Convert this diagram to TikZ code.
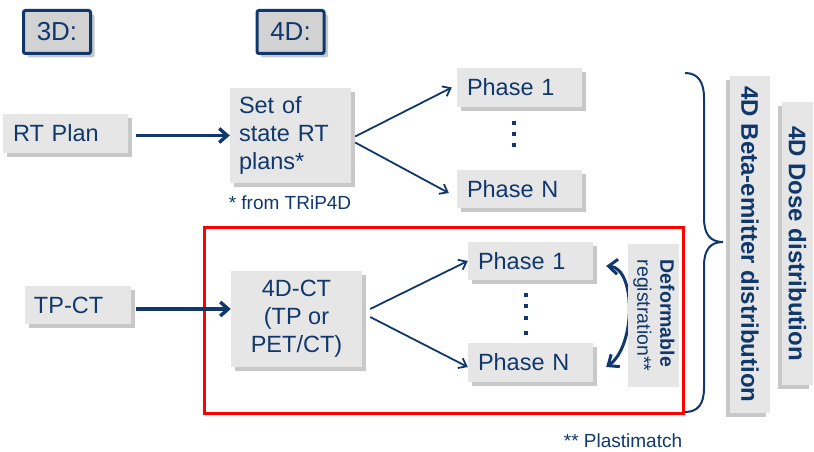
\documentclass[tikz,border=0pt]{standalone}
\usepackage{fontspec}
\usepackage{graphicx}
\setmainfont{Liberation Sans}
\usetikzlibrary{arrows.meta,shadows,calc}
\definecolor{navy}{RGB}{16,56,108}
\definecolor{boxgray}{RGB}{230,230,230}
\definecolor{labelgray}{RGB}{210,210,210}
\definecolor{shadowgray}{RGB}{200,200,200}
\definecolor{framered}{RGB}{255,0,0}
\begin{document}
\begin{tikzpicture}[x=1pt,y=-1pt,
  every node/.style={text=navy},
  mainfont/.style={font=\fontsize{23.5}{28}\selectfont},
  shadowed/.style={drop shadow={shadow xshift=4pt,shadow yshift=-4pt,fill=shadowgray,opacity=1}},
  leftshadowed/.style={drop shadow={shadow xshift=-4pt,shadow yshift=-4pt,fill=shadowgray,opacity=1}},
  box/.style={mainfont,fill=boxgray,inner ysep=0pt,shadowed},
  leftbox/.style={box,align=left,inner xsep=#1},
  labelbox/.style={draw=navy,line width=3pt,fill=labelgray,rounded corners=2pt,
    minimum width=67pt,minimum height=43pt,inner sep=0pt,
    font=\fontsize{26}{30}\selectfont,shadowed},
  sidebox/.style={fill=boxgray,inner sep=0pt,
    font=\bfseries\fontsize{24}{28}\selectfont,leftshadowed},
  note/.style={font=\fontsize{19}{22}\selectfont,inner sep=0pt},
  thickarrow/.style={navy,line width=3.4pt,-{Straight Barb[length=8pt,width=14pt]}},
  thinarrow/.style={navy,line width=1.8pt,-{Straight Barb[length=7pt,width=11pt]}},
  regarrow/.style={navy,line width=3pt,{Straight Barb[length=9pt,width=15pt]}-{Straight Barb[length=9pt,width=15pt]}},
  dot/.style={fill=navy},
]
\useasboundingbox (0,0) rectangle (814,452);

% frame around the 4D-CT branch
\draw[framered,line width=3pt] (204,227) rectangle (683,413);

% column headings
\node[labelbox] (h3d) at (57,32) {3D:};
\node[labelbox] (h4d) at (290.5,32) {4D:};

% plan branch
\node[leftbox=10pt,text width=105pt,minimum height=39pt] (rtplan) at (65.5,133.5) {RT Plan};
\node[leftbox=9pt,text width=103pt,minimum height=95pt] (plans) at (290.5,135.5) {Set of\\state RT\\plans*};
\node[note] (trip) at (290,203) {* from TRiP4D};
\node[leftbox=10pt,text width=105pt,minimum height=39pt] (p1a) at (519.5,87.5) {Phase 1};
\node[leftbox=10pt,text width=105pt,minimum height=38pt] (pna) at (519.5,189) {Phase N};

\draw[thickarrow] ([xshift=8pt]rtplan.east |- plans.west) -- (plans.west);
\coordinate (fa1) at ($(plans.east)+(4,1)$);
\coordinate (fa2) at ($(plans.east)+(4,7)$);
\draw[thinarrow] (fa1) -- ([xshift=-5pt]p1a.west);
\draw[thinarrow] (fa2) -- ([xshift=-8pt,yshift=-4pt]pna.west);

\foreach \yy in {123,134,145} \fill[dot] (512,\yy-2) rectangle (516,\yy+2);

% imaging branch
\node[leftbox=9pt,text width=88pt,minimum height=38pt] (tpct) at (78,305) {TP-CT};
\node[box,align=center,minimum width=131pt,minimum height=96pt,inner xsep=0pt] (ct4d) at (296.5,319) {4D-CT\\(TP or\\PET/CT)};
\node[leftbox=10pt,text width=105pt,minimum height=38pt] (p1b) at (530.5,261) {Phase 1};
\node[leftbox=10pt,text width=105pt,minimum height=39pt] (pnb) at (530.5,362.5) {Phase N};

\draw[thickarrow] ([xshift=5pt]tpct.east |- 0,309) -- ($(ct4d.west)+(0,-10)$);
\coordinate (fb1) at ($(ct4d.east)+(8,-10)$);
\coordinate (fb2) at ($(ct4d.east)+(8,-2)$);
\draw[thinarrow] (fb1) -- (p1b.west);
\draw[thinarrow] (fb2) -- ([yshift=-4.5pt]pnb.west);

\foreach \yy in {295,306,318,333} \fill[dot] (524,\yy-2) rectangle (528,\yy+2);

% deformable registration between the phases
\draw[regarrow] ([xshift=13pt,yshift=-5pt]p1b.east) .. controls (636,268) and (636,346) .. ([xshift=13pt,yshift=-4.5pt]pnb.east);
\node[fill=boxgray,inner sep=0pt,minimum width=51pt,minimum height=143pt,
      font=\fontsize{19.5}{23}\selectfont] (defreg) at (653.5,315.5)
      {\rotatebox{-90}{\begin{tabular}{@{}l@{}}\bfseries Deformable\\registration**\end{tabular}}};
\node[note] (plasti) at (623,441) {** Plastimatch};

% brace gathering both branches
\draw[navy,line width=2pt] (685,73) .. controls (698,73) and (704,82) .. (704,98)
  -- (704,218) .. controls (704,234) and (710,242) .. (723,242)
  .. controls (710,242) and (704,250) .. (704,266)
  -- (704,388) .. controls (704,404) and (698,412) .. (685,412);

% outputs
\node[sidebox,minimum width=40pt,minimum height=337pt] (beta) at (750,244.5) {\rotatebox{-90}{4D Beta-emitter distribution}};
\node[sidebox,minimum width=31pt,minimum height=283pt] (dose) at (797.5,243.5) {\rotatebox{-90}{4D Dose distribution}};
\end{tikzpicture}
\end{document}
